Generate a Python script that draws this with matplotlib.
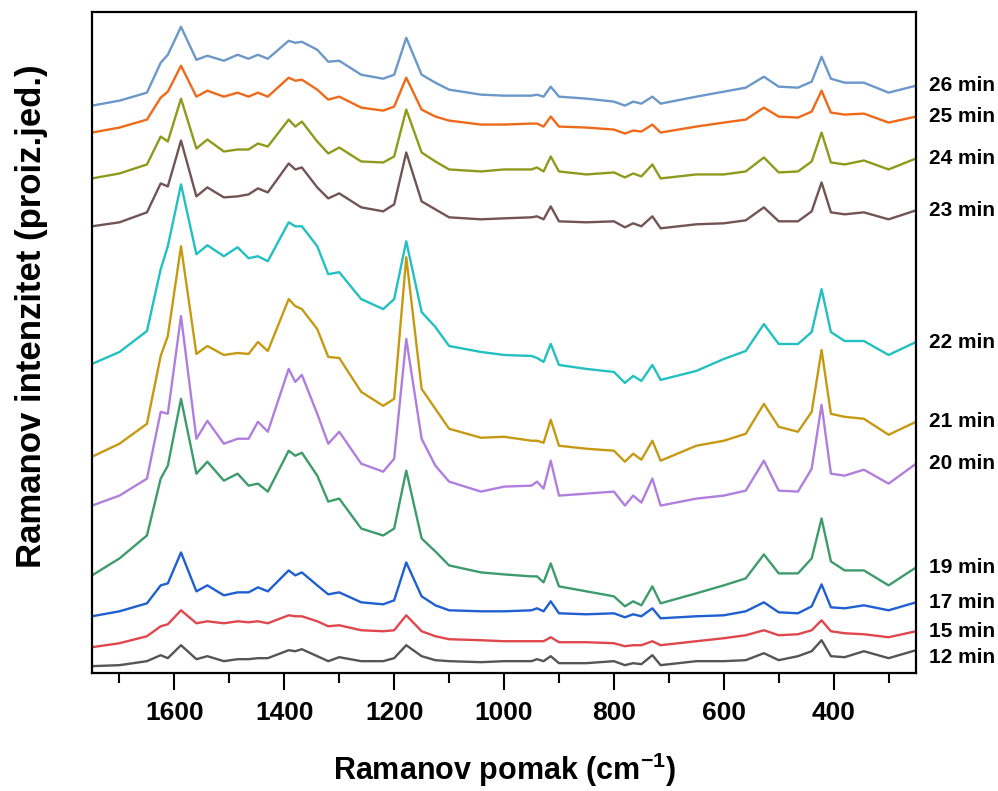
import numpy as np
import matplotlib
matplotlib.use("Agg")
import matplotlib.pyplot as plt
import matplotlib.transforms as mtransforms

plt.rcParams['font.family'] = ['Liberation Sans', 'DejaVu Sans']
plt.rcParams['font.weight'] = 'bold'
plt.rcParams['mathtext.fontset'] = 'custom'
plt.rcParams['mathtext.rm'] = 'Liberation Sans:bold'
plt.rcParams['mathtext.bf'] = 'Liberation Sans:bold'
plt.rcParams['mathtext.default'] = 'bf'

shift = [1750, 1700, 1650, 1625, 1612, 1588, 1560, 1540, 1510, 1485,
         1465, 1448, 1430, 1392, 1380, 1368, 1340, 1320, 1300, 1260,
         1220, 1200, 1178, 1150, 1125, 1100, 1042, 1000, 950, 940,
         928, 915, 900, 850, 800, 780, 765, 750, 730, 715,
         650, 600, 560, 527, 500, 465, 440, 422, 405, 380,
         345, 300, 250]

# stacked intensities (arb. units, offsets included)
i26 = [569, 574, 582, 612, 620, 648, 615, 619, 614, 620, 616, 620, 616, 634, 632, 633, 625, 613, 614, 600,
       596, 600, 637, 600, 592, 585, 580, 579, 579, 580, 578, 588, 578, 576, 573, 569, 573, 571, 578, 571,
       578, 583, 587, 598, 588, 587, 593, 618, 596, 592, 592, 582, 589]
i25 = [542, 547, 555, 577, 583, 609, 578, 584, 578, 582, 578, 582, 578, 597, 594, 595, 585, 575, 578, 567,
       564, 568, 597, 565, 558, 554, 550, 550, 551, 551, 548, 558, 548, 547, 545, 541, 544, 543, 550, 542,
       548, 552, 555, 567, 558, 557, 563, 584, 562, 560, 561, 552, 558]
i24 = [496, 501, 510, 538, 533, 576, 526, 535, 523, 525, 525, 531, 528, 555, 548, 553, 533, 521, 527, 513,
       512, 518, 565, 522, 513, 505, 503, 505, 505, 507, 503, 518, 503, 500, 502, 497, 501, 498, 510, 496,
       500, 500, 503, 517, 502, 503, 513, 542, 512, 510, 514, 505, 516]
i23 = [448, 452, 462, 491, 488, 534, 478, 487, 477, 478, 480, 486, 482, 511, 505, 507, 487, 476, 481, 467,
       463, 470, 522, 473, 465, 457, 455, 456, 457, 458, 455, 468, 453, 452, 453, 447, 451, 448, 458, 446,
       450, 451, 454, 467, 453, 453, 463, 492, 462, 460, 462, 455, 464]
i22 = [310, 322, 343, 405, 428, 490, 420, 429, 418, 427, 416, 418, 413, 452, 448, 448, 428, 400, 402, 375,
       365, 375, 433, 362, 347, 328, 322, 319, 318, 316, 312, 330, 309, 305, 302, 291, 298, 293, 309, 294,
       303, 315, 323, 350, 330, 330, 342, 385, 342, 333, 333, 319, 332]
i21 = [217, 230, 250, 318, 338, 428, 320, 328, 319, 321, 320, 332, 323, 375, 368, 365, 345, 317, 316, 282,
       268, 275, 417, 285, 265, 245, 236, 237, 233, 233, 231, 254, 228, 225, 223, 212, 220, 214, 233, 213,
       228, 233, 240, 270, 247, 242, 262, 324, 260, 257, 255, 239, 252]
i20 = [168, 178, 195, 262, 260, 358, 235, 253, 230, 235, 235, 252, 242, 305, 292, 299, 260, 230, 242, 210,
       202, 215, 335, 235, 208, 192, 182, 187, 188, 192, 185, 213, 178, 180, 182, 168, 178, 171, 195, 168,
       175, 178, 183, 213, 183, 182, 205, 269, 200, 198, 204, 190, 210]
i19 = [98, 115, 138, 195, 208, 275, 200, 212, 193, 200, 188, 190, 182, 223, 218, 221, 198, 172, 175, 145,
       138, 145, 203, 135, 122, 108, 101, 99, 97, 97, 91, 110, 87, 82, 77, 67, 72, 68, 87, 70,
       80, 88, 95, 119, 100, 100, 115, 155, 112, 103, 103, 88, 106]
i17 = [57, 62, 70, 88, 90, 121, 82, 88, 78, 81, 81, 86, 82, 103, 98, 101, 88, 79, 81, 71,
       69, 73, 111, 77, 68, 63, 62, 62, 63, 65, 62, 72, 60, 59, 60, 56, 59, 57, 65, 55,
       57, 58, 62, 71, 61, 60, 67, 89, 66, 65, 68, 63, 71]
i15 = [26, 30, 37, 47, 49, 63, 50, 52, 50, 52, 51, 52, 50, 58, 57, 57, 52, 47, 48, 43,
       42, 43, 58, 42, 37, 34, 33, 32, 32, 32, 32, 36, 31, 31, 30, 27, 28, 28, 32, 28,
       32, 35, 38, 43, 38, 39, 43, 53, 42, 40, 39, 36, 42]
i12 = [7, 8, 12, 18, 15, 28, 14, 17, 12, 14, 14, 15, 15, 23, 22, 24, 17, 12, 16, 12,
       12, 15, 28, 17, 13, 12, 11, 12, 12, 14, 12, 17, 10, 10, 12, 8, 10, 9, 18, 8,
       12, 12, 13, 20, 13, 17, 22, 33, 17, 16, 22, 15, 23]

labels = ['26 min', '25 min', '24 min', '23 min', '22 min', '21 min',
          '20 min', '19 min', '17 min', '15 min', '12 min']
spectra = [i26, i25, i24, i23, i22, i21, i20, i19, i17, i15, i12]
colors = ['#6b98c8', '#ee6a1a', '#8e9a1b', '#735454', '#22c0c0', '#c59a12',
          '#b07fdd', '#3d9b6c', '#1f5fd0', '#e0474c', '#555555']
label_nudge = [0, 0, 0, 0, 0, 0, 0, 0, 0, 0, -7]

fig = plt.figure(figsize=(9.98, 7.91), dpi=100)
ax = fig.add_axes([0.0922, 0.149, 0.8257, 0.836])

for y, c in zip(spectra, colors):
    ax.plot(shift, y, color=c, lw=1.7)

# time labels to the right of the frame
trans = mtransforms.blended_transform_factory(ax.transAxes, ax.transData)
for y, lab, dy in zip(spectra, labels, label_nudge):
    ax.text(1.016, y[-1] + dy, lab, transform=trans, ha='left', va='center',
            fontsize=15, fontweight='bold')

ax.set_xlim(1750, 250)
ax.set_ylim(0, 663)
ax.set_yticks([])
ax.set_xticks([1600, 1400, 1200, 1000, 800, 600, 400])
ax.set_xticks(np.arange(1700, 250, -100), minor=True)
ax.tick_params(axis='x', which='major', direction='out', length=12, width=1.5,
               labelsize=19, pad=8)
ax.tick_params(axis='x', which='minor', direction='out', length=7, width=1.5)
for s in ax.spines.values():
    s.set_linewidth(1.6)

ax.set_xlabel('Ramanov pomak (cm$^{-1}$)', fontsize=22, fontweight='bold')
ax.xaxis.set_label_coords(0.5, -0.118)
ax.set_ylabel('Ramanov intenzitet (proiz.jed.)', fontsize=25, fontweight='bold')
ax.yaxis.set_label_coords(-0.054, 0.54)

fig.savefig('out.png', dpi=100)
